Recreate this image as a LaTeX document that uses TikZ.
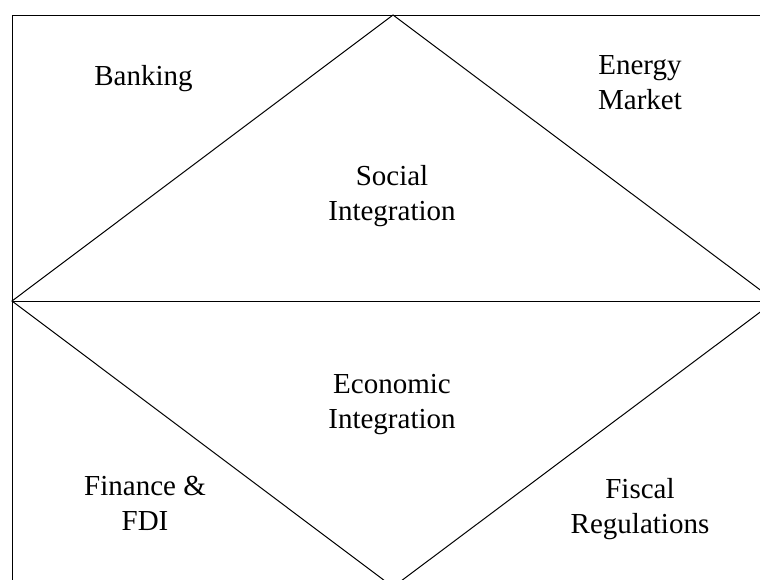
\documentclass[tikz,border=0pt]{standalone}
\usepackage{fontspec}
\setmainfont{Liberation Serif}
\begin{document}
\begin{tikzpicture}[x=1pt,y=-1pt,line width=1pt,
  lbl/.style={align=center,inner sep=0pt,font=\fontsize{29}{35}\selectfont}]
\useasboundingbox (0,0) rectangle (760,579);
\clip (0,0) rectangle (760,579);
\coordinate (TL) at (12,15);
\coordinate (BR) at (775,587);
\coordinate (T) at (393,15);
\coordinate (L) at (12,301);
\coordinate (R) at (775,301);
\coordinate (B) at (393,587);
\draw (TL) rectangle (BR);
\draw (L) -- (R);
\draw (L) -- (T) -- (R) -- (B) -- cycle;
\node[lbl] (banking) at (143.5,78) {\strut Banking};
\node[lbl] (energy) at (640,84.5) {\strut Energy\\\strut Market};
\node[lbl] (social) at (392,196) {\strut Social\\\strut Integration};
\node[lbl] (economic) at (392,403.5) {\strut Economic\\\strut Integration};
\node[lbl] (finance) at (145,505.5) {\strut Finance \&\\\strut FDI};
\node[lbl] (fiscal) at (640,508.5) {\strut Fiscal\\\strut Regulations};
\end{tikzpicture}
\end{document}
